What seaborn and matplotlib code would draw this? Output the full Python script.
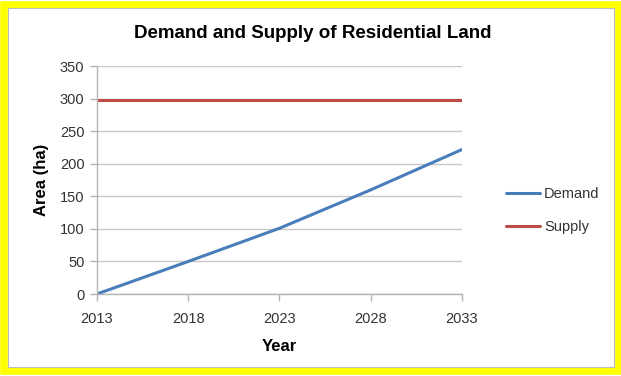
import matplotlib
matplotlib.use("Agg")
import matplotlib.pyplot as plt
from matplotlib.patches import Rectangle
import seaborn as sns
import pandas as pd

years = [2013, 2018, 2023, 2028, 2033]
demand = [0, 50, 101, 160, 222]
supply = [298, 298, 298, 298, 298]
y_ticks = [0, 50, 100, 150, 200, 250, 300, 350]
x_ticks = [2013, 2018, 2023, 2028, 2033]

df = pd.DataFrame({
    "Year": years * 2,
    "Area": demand + supply,
    "Series": ["Demand"] * len(years) + ["Supply"] * len(years),
})

sns.set_theme(style="white")
plt.rcParams["font.family"] = ["Liberation Sans", "DejaVu Sans"]

fig = plt.figure(figsize=(6.21, 3.76), dpi=100)
ax = fig.add_axes([0.156, 0.218, 0.588, 0.606])

sns.lineplot(data=df, x="Year", y="Area", hue="Series",
             palette={"Demand": "#4a7ebb", "Supply": "#be4b48"},
             linewidth=2.2, ax=ax, legend=True)

ax.set_xlim(2013, 2033)
ax.set_ylim(0, 350)
ax.set_xticks(x_ticks)
ax.set_yticks(y_ticks)
ax.yaxis.grid(True, color="#c8c8c8", linewidth=1)
ax.set_axisbelow(True)
for s in ["top", "right"]:
    ax.spines[s].set_visible(False)
for s in ["left", "bottom"]:
    ax.spines[s].set_color("#b4b4b4")
    ax.spines[s].set_linewidth(1)
ax.tick_params(axis="both", which="major", labelsize=10.5, colors="#b4b4b4",
               labelcolor="#333333", length=5, width=1, direction="out",
               bottom=True, left=True)
ax.tick_params(axis="x", pad=8)
ax.tick_params(axis="y", pad=4)
ax.set_xlabel("Year", fontsize=12, fontweight="bold", color="black", labelpad=9)
ax.set_ylabel("Area (ha)", fontsize=12, fontweight="bold", color="black", labelpad=8)

leg = ax.legend(loc="center left", bbox_to_anchor=(1.085, 0.365), frameon=False,
                fontsize=10.5, handlelength=2.3, handletextpad=0.3, labelspacing=1.3)
for t in leg.get_texts():
    t.set_color("#333333")

fig.text(0.503, 0.91, "Demand and Supply of Residential Land", ha="center",
         va="center", fontsize=13.5, fontweight="bold", color="black")

# framed border around the whole figure
fig.patches.append(Rectangle((0.006, 0.012), 0.99, 0.976, transform=fig.transFigure,
                             fill=False, edgecolor="#ffff00", linewidth=5.5, zorder=10))
fig.patches.append(Rectangle((0.013, 0.024), 0.976, 0.954, transform=fig.transFigure,
                             fill=False, edgecolor="#bdbdbd", linewidth=0.8, zorder=10))

fig.savefig("out.png", dpi=100)
